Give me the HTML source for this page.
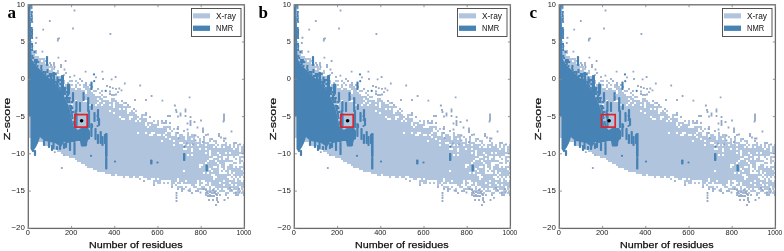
<!DOCTYPE html>
<html><head><meta charset="utf-8"><style>
html,body{margin:0;padding:0;background:#fff;}
svg{display:block;filter:blur(0.4px);}
.t{font-family:"Liberation Sans",sans-serif;font-size:7.4px;fill:#222;}
.al{font-family:"Liberation Sans",sans-serif;font-size:9.6px;fill:#111;stroke:#111;stroke-width:0.25px;}
.lg{font-family:"Liberation Sans",sans-serif;font-size:8.3px;fill:#111;}
.pl{font-family:"Liberation Serif",serif;font-weight:bold;font-size:17px;fill:#000;}
</style></head><body>
<svg width="784" height="251" viewBox="0 0 784 251">
<rect width="784" height="251" fill="#fff"/>
<g transform="translate(0,0)"><path fill="#b0c4de" d="M29,50h2v88h-2zM31,48h2v92h-2zM33,50h2v90h-2zM35,52h2v2h-2zM35,56h2v84h-2zM37,56h2v86h-2zM39,58h2v84h-2zM41,58h2v2h-2zM41,62h2v80h-2zM43,58h2v86h-2zM45,60h2v2h-2zM45,64h2v82h-2zM47,64h2v82h-2zM49,66h2v2h-2zM49,70h2v76h-2zM51,66h2v82h-2zM53,68h2v2h-2zM53,72h2v78h-2zM55,72h2v78h-2zM57,70h2v4h-2zM57,76h2v76h-2zM59,76h2v76h-2zM61,80h2v74h-2zM63,74h2v2h-2zM63,80h2v4h-2zM63,86h2v68h-2zM65,84h2v72h-2zM67,82h2v8h-2zM67,92h2v64h-2zM69,80h2v2h-2zM69,84h2v74h-2zM71,80h2v2h-2zM71,84h2v2h-2zM71,88h2v16h-2zM71,106h2v52h-2zM73,88h2v70h-2zM75,80h2v2h-2zM75,84h2v4h-2zM75,90h2v10h-2zM75,102h2v58h-2zM77,82h2v2h-2zM77,88h2v74h-2zM79,84h2v2h-2zM79,88h2v74h-2zM81,90h2v74h-2zM83,84h2v4h-2zM83,90h2v4h-2zM83,96h2v4h-2zM83,102h2v62h-2zM85,86h2v4h-2zM85,94h2v6h-2zM85,102h2v64h-2zM87,86h2v14h-2zM87,102h2v66h-2zM89,88h2v16h-2zM89,106h2v62h-2zM91,92h2v76h-2zM93,90h2v2h-2zM93,94h2v76h-2zM95,90h2v2h-2zM95,96h2v8h-2zM95,106h2v64h-2zM97,96h2v2h-2zM97,100h2v2h-2zM97,104h2v68h-2zM99,92h2v2h-2zM99,96h2v4h-2zM99,102h2v70h-2zM101,94h2v2h-2zM101,98h2v6h-2zM101,106h2v66h-2zM103,96h2v2h-2zM103,100h2v2h-2zM103,104h2v68h-2zM105,96h2v2h-2zM105,100h2v74h-2zM107,100h2v74h-2zM109,102h2v2h-2zM109,106h2v4h-2zM109,112h2v62h-2zM111,98h2v78h-2zM113,98h2v4h-2zM113,108h2v4h-2zM113,114h2v62h-2zM115,100h2v74h-2zM117,102h2v74h-2zM119,104h2v4h-2zM119,110h2v6h-2zM119,118h2v58h-2zM121,104h2v14h-2zM121,120h2v56h-2zM123,102h2v2h-2zM123,106h2v2h-2zM123,110h2v8h-2zM123,120h2v58h-2zM125,106h2v70h-2zM127,106h2v2h-2zM127,114h2v62h-2zM129,106h2v2h-2zM129,112h2v4h-2zM129,120h2v58h-2zM131,110h2v6h-2zM131,118h2v60h-2zM133,112h2v64h-2zM135,110h2v2h-2zM135,114h2v6h-2zM135,122h2v56h-2zM137,116h2v2h-2zM137,120h2v12h-2zM137,134h2v44h-2zM139,118h2v2h-2zM139,122h2v54h-2zM139,178h2v2h-2zM141,114h2v62h-2zM143,114h2v2h-2zM143,118h2v60h-2zM145,118h2v4h-2zM145,126h2v6h-2zM145,134h2v44h-2zM147,122h2v4h-2zM147,128h2v52h-2zM149,122h2v2h-2zM149,126h2v8h-2zM149,136h2v44h-2zM151,122h2v10h-2zM151,136h2v42h-2zM153,120h2v2h-2zM153,124h2v8h-2zM153,134h2v44h-2zM153,180h2v4h-2zM155,124h2v58h-2zM157,120h2v6h-2zM157,128h2v6h-2zM157,136h2v42h-2zM157,180h2v4h-2zM159,128h2v6h-2zM159,136h2v48h-2zM161,122h2v2h-2zM161,128h2v12h-2zM161,142h2v38h-2zM163,126h2v8h-2zM163,136h2v44h-2zM163,182h2v2h-2zM165,126h2v6h-2zM165,134h2v2h-2zM165,138h2v42h-2zM167,126h2v2h-2zM167,132h2v48h-2zM167,182h2v2h-2zM169,126h2v4h-2zM169,132h2v6h-2zM169,140h2v40h-2zM171,130h2v2h-2zM171,136h2v50h-2zM173,128h2v2h-2zM173,136h2v4h-2zM173,142h2v2h-2zM173,146h2v38h-2zM175,132h2v50h-2zM175,184h2v2h-2zM177,132h2v2h-2zM177,138h2v40h-2zM177,182h2v2h-2zM177,186h2v2h-2zM179,134h2v8h-2zM179,144h2v40h-2zM179,186h2v2h-2zM181,134h2v8h-2zM181,144h2v38h-2zM181,186h2v2h-2zM183,136h2v8h-2zM183,146h2v2h-2zM183,150h2v20h-2zM183,172h2v12h-2zM183,188h2v2h-2zM185,140h2v8h-2zM185,150h2v30h-2zM185,182h2v2h-2zM185,186h2v2h-2zM187,132h2v12h-2zM187,146h2v8h-2zM187,156h2v28h-2zM189,136h2v48h-2zM189,188h2v2h-2zM191,134h2v4h-2zM191,140h2v4h-2zM191,146h2v2h-2zM191,152h2v2h-2zM191,156h2v30h-2zM193,134h2v54h-2zM195,142h2v42h-2zM195,186h2v2h-2zM197,136h2v2h-2zM197,142h2v2h-2zM197,146h2v34h-2zM197,188h2v2h-2zM199,138h2v10h-2zM199,150h2v14h-2zM199,168h2v18h-2zM199,188h2v2h-2zM201,144h2v20h-2zM201,166h2v14h-2zM201,182h2v2h-2zM201,186h2v4h-2zM203,138h2v34h-2zM203,174h2v6h-2zM203,186h2v4h-2zM205,142h2v2h-2zM205,146h2v2h-2zM205,150h2v2h-2zM205,154h2v8h-2zM205,164h2v18h-2zM205,184h2v2h-2zM205,188h2v2h-2zM207,142h2v18h-2zM207,162h2v10h-2zM207,174h2v12h-2zM207,190h2v2h-2zM209,138h2v4h-2zM209,144h2v6h-2zM209,156h2v2h-2zM209,160h2v8h-2zM209,170h2v12h-2zM209,186h2v6h-2zM211,144h2v14h-2zM211,160h2v10h-2zM211,172h2v2h-2zM211,176h2v10h-2zM211,190h2v2h-2zM213,140h2v2h-2zM213,144h2v2h-2zM213,148h2v8h-2zM213,158h2v8h-2zM213,168h2v6h-2zM213,180h2v6h-2zM213,188h2v4h-2zM215,140h2v4h-2zM215,146h2v10h-2zM215,158h2v2h-2zM215,162h2v4h-2zM215,168h2v8h-2zM215,178h2v10h-2zM215,190h2v2h-2zM217,144h2v2h-2zM217,148h2v4h-2zM217,154h2v8h-2zM217,164h2v26h-2zM217,192h2v2h-2zM219,148h2v6h-2zM219,156h2v2h-2zM219,160h2v4h-2zM219,174h2v8h-2zM219,184h2v4h-2zM219,190h2v2h-2zM221,144h2v24h-2zM221,170h2v2h-2zM221,174h2v18h-2zM223,144h2v2h-2zM223,148h2v8h-2zM223,160h2v10h-2zM223,174h2v6h-2zM223,182h2v2h-2zM223,186h2v2h-2zM223,190h2v2h-2zM225,142h2v10h-2zM225,154h2v2h-2zM225,158h2v4h-2zM225,170h2v2h-2zM225,174h2v14h-2zM225,192h2v2h-2zM227,146h2v16h-2zM227,166h2v10h-2zM227,178h2v12h-2zM227,192h2v2h-2zM229,144h2v8h-2zM229,154h2v2h-2zM229,160h2v2h-2zM229,164h2v6h-2zM229,174h2v2h-2zM229,180h2v2h-2zM229,184h2v8h-2zM231,148h2v8h-2zM231,160h2v2h-2zM231,164h2v10h-2zM231,176h2v2h-2zM231,180h2v4h-2zM231,186h2v2h-2zM231,190h2v2h-2zM233,144h2v4h-2zM233,150h2v8h-2zM233,162h2v2h-2zM233,168h2v4h-2zM233,174h2v2h-2zM233,178h2v12h-2zM233,192h2v2h-2zM235,148h2v8h-2zM235,158h2v2h-2zM235,162h2v2h-2zM235,166h2v12h-2zM235,182h2v2h-2zM235,186h2v4h-2zM235,192h2v2h-2zM237,144h2v12h-2zM237,168h2v8h-2zM237,178h2v16h-2zM239,152h2v2h-2zM239,156h2v8h-2zM239,166h2v12h-2zM239,180h2v6h-2zM239,190h2v2h-2zM241,146h2v8h-2zM241,156h2v2h-2zM241,160h2v2h-2zM241,166h2v2h-2zM241,170h2v6h-2zM241,182h2v8h-2zM241,192h2v2h-2zM243,144h2v10h-2zM243,156h2v2h-2zM243,162h2v8h-2zM243,172h2v2h-2zM243,176h2v2h-2zM243,180h2v8h-2zM243,192h2v2h-2z"/>
<path fill="#a2b7d6" d="M35,50h2v2h-2zM49,62h2v2h-2zM53,62h2v2h-2zM53,64h2v2h-2zM63,154h2v2h-2zM65,72h2v2h-2zM69,76h2v2h-2zM79,78h2v2h-2zM81,80h2v2h-2zM85,82h2v2h-2zM85,84h2v2h-2zM89,84h2v2h-2zM91,86h2v2h-2zM97,88h2v2h-2zM101,90h2v2h-2zM111,94h2v2h-2zM113,94h2v2h-2zM121,100h2v2h-2zM125,102h2v2h-2zM127,104h2v2h-2zM133,108h2v2h-2zM143,180h2v2h-2zM145,112h2v2h-2zM145,114h2v2h-2zM149,116h2v2h-2zM153,184h2v2h-2zM161,120h2v2h-2zM163,122h2v2h-2zM165,120h2v2h-2zM165,122h2v2h-2zM169,122h2v2h-2zM171,186h2v2h-2zM177,126h2v2h-2zM177,128h2v2h-2zM177,188h2v2h-2zM181,188h2v2h-2zM181,190h2v2h-2zM183,130h2v2h-2zM189,190h2v2h-2zM191,192h2v2h-2zM195,190h2v2h-2zM197,190h2v2h-2zM203,136h2v2h-2zM205,134h2v2h-2zM205,192h2v2h-2zM205,194h2v2h-2zM209,194h2v2h-2zM211,138h2v2h-2zM211,192h2v2h-2zM213,192h2v2h-2zM219,194h2v2h-2zM223,140h2v2h-2zM225,194h2v2h-2zM233,142h2v2h-2zM235,142h2v2h-2zM235,194h2v2h-2zM237,194h2v2h-2zM243,194h2v2h-2z"/>
<polygon fill="#4682b4" points="28.5,5.0 30.5,5.0 30.5,7.0 30.6,9.0 30.6,11.0 30.7,13.0 30.7,15.0 30.7,17.0 30.8,19.0 30.8,21.0 30.9,23.0 30.9,25.0 30.9,27.0 31.0,29.0 31.0,31.0 31.0,33.0 31.0,35.0 31.0,37.0 31.0,39.0 31.0,41.0 31.0,43.0 31.0,45.0 31.0,47.0 31.1,49.0 31.2,51.0 31.4,53.0 31.5,55.0 31.7,57.0 31.9,59.0 32.7,61.0 34.1,63.0 35.5,65.0 37.5,67.0 39.5,69.0 41.5,71.0 43.5,73.0 45.5,75.0 47.9,77.0 50.3,79.0 52.5,81.0 54.5,83.0 56.5,85.0 58.0,87.0 59.4,89.0 60.8,91.0 62.1,93.0 63.3,95.0 64.4,97.0 65.5,99.0 66.4,101.0 67.3,103.0 68.2,105.0 68.8,107.0 69.5,109.0 70.1,111.0 70.5,113.0 71.0,115.0 71.4,117.0 71.9,119.0 72.3,121.0 72.8,123.0 73.3,125.0 73.8,127.0 78.0,130.0 81.0,128.0 88.0,128.0 90.0,131.0 90.0,139.0 88.0,140.0 86.0,146.5 81.0,146.5 80.0,141.0 77.0,141.0 74.5,142.0 72.0,142.0 68.0,143.0 64.0,142.0 61.0,147.0 58.0,145.0 55.0,143.0 50.0,142.0 45.0,141.0 42.0,139.0 40.0,137.0 38.0,143.0 36.0,147.0 34.0,150.0 32.0,151.0 30.5,149.0 30.5,116.0 28.5,116.0"/>
<path fill="#4682b4" d="M30.2,5.0h2v2h-2zM30.4,7.0h2v2h-2zM30.8,11.0h2v2h-2zM30.5,13.0h2v2h-2zM30.7,15.0h2v2h-2zM30.8,17.0h2v2h-2zM30.7,19.0h2v2h-2zM31.1,21.0h2v2h-2zM30.7,27.0h2v2h-2zM31.1,29.0h2v2h-2zM31.0,31.0h2v2h-2zM31.1,33.0h2v2h-2zM30.9,35.0h2v2h-2zM31.1,37.0h2v2h-2zM31.0,43.0h2v2h-2zM31.2,45.0h2v2h-2zM31.1,47.0h2v2h-2zM31.1,49.0h2v2h-2zM33.6,51.0h2v2h-2zM31.3,55.0h2v2h-2zM32.1,57.0h2v2h-2zM34.0,59.0h2v2h-2zM35.9,59.0h2v2h-2zM33.6,61.0h2v2h-2zM35.5,61.0h2v2h-2zM37.3,61.0h2v2h-2zM34.9,63.0h2v2h-2zM36.5,65.0h2v2h-2zM40.4,65.0h2v2h-2zM40.2,67.0h2v2h-2zM40.6,69.0h2v2h-2zM46.5,69.0h2v2h-2zM42.3,71.0h2v2h-2zM44.3,71.0h2v2h-2zM46.5,71.0h2v2h-2zM44.4,73.0h2v2h-2zM48.7,73.0h2v2h-2zM50.8,73.0h2v2h-2zM54.6,73.0h2v2h-2zM46.6,75.0h2v2h-2zM48.6,75.0h2v2h-2zM50.6,75.0h2v2h-2zM52.9,75.0h2v2h-2zM51.2,79.0h2v2h-2zM53.4,79.0h2v2h-2zM57.7,79.0h2v2h-2zM59.5,79.0h2v2h-2zM53.6,81.0h2v2h-2zM55.6,81.0h2v2h-2zM57.6,81.0h2v2h-2zM55.4,83.0h2v2h-2zM59.3,83.0h2v2h-2zM57.1,85.0h2v2h-2zM58.4,87.0h2v2h-2zM60.6,87.0h2v2h-2zM62.6,87.0h2v2h-2zM64.4,87.0h2v2h-2zM60.0,89.0h2v2h-2zM62.3,89.0h2v2h-2zM64.0,89.0h2v2h-2zM61.4,91.0h2v2h-2zM63.4,91.0h2v2h-2zM65.6,91.0h2v2h-2zM62.7,93.0h2v2h-2zM64.5,93.0h2v2h-2zM67.0,93.0h2v2h-2zM66.0,95.0h2v2h-2zM65.0,97.0h2v2h-2zM67.0,97.0h2v2h-2zM68.8,97.0h2v2h-2zM66.0,99.0h2v2h-2zM68.2,99.0h2v2h-2zM66.8,101.0h2v2h-2zM68.6,101.0h2v2h-2zM71.1,101.0h2v2h-2zM68.6,105.0h2v2h-2zM70.5,105.0h2v2h-2zM69.3,107.0h2v2h-2zM71.3,107.0h2v2h-2zM69.8,109.0h2v2h-2zM70.4,111.0h2v2h-2zM72.3,111.0h2v2h-2zM70.9,113.0h2v2h-2zM71.1,115.0h2v2h-2zM71.5,117.0h2v2h-2zM72.7,121.0h2v2h-2zM73.1,123.0h2v2h-2zM73.7,125.0h2v2h-2zM74.2,127.0h2v2h-2z"/>
<path fill="#8cb0d6" d="M31.4,6.0h1.3v1.3h-1.3zM30.5,8.2h1.3v1.3h-1.3zM30.0,12.6h1.3v1.3h-1.3zM29.8,14.8h1.3v1.3h-1.3zM30.8,17.0h1.3v1.3h-1.3zM31.4,21.4h1.3v1.3h-1.3zM31.0,41.2h1.3v1.3h-1.3zM31.0,47.8h1.3v1.3h-1.3z"/>
<rect x="45.9" y="56.0" width="2.2" height="10.0" rx="0.8" fill="#4682b4"/>
<rect x="60.8" y="78.0" width="2.4" height="18.0" rx="0.8" fill="#4682b4"/>
<rect x="66.9" y="84.0" width="2.2" height="12.0" rx="0.8" fill="#4682b4"/>
<rect x="71.9" y="92.0" width="2.2" height="10.0" rx="0.8" fill="#4682b4"/>
<rect x="75.3" y="101.0" width="2.2" height="11.0" rx="0.8" fill="#4682b4"/>
<rect x="78.9" y="102.0" width="2.2" height="10.0" rx="0.8" fill="#4682b4"/>
<rect x="82.5" y="92.0" width="2.2" height="9.0" rx="0.8" fill="#4682b4"/>
<rect x="87.1" y="97.0" width="2.2" height="15.0" rx="0.8" fill="#4682b4"/>
<rect x="90.4" y="81.6" width="2.2" height="8.4" rx="0.8" fill="#4682b4"/>
<rect x="90.7" y="104.0" width="2.2" height="6.0" rx="0.8" fill="#4682b4"/>
<rect x="96.9" y="109.0" width="2.2" height="10.0" rx="0.8" fill="#4682b4"/>
<rect x="90.3" y="123.0" width="2.2" height="14.0" rx="0.8" fill="#4682b4"/>
<rect x="105.0" y="133.0" width="2.6" height="24.0" rx="0.8" fill="#4682b4"/>
<rect x="105.1" y="157.0" width="2.3" height="12.5" rx="0.8" fill="#4682b4"/>
<rect x="96.8" y="134.0" width="2.2" height="10.0" rx="0.8" fill="#4682b4"/>
<rect x="99.6" y="131.0" width="2.2" height="13.0" rx="0.8" fill="#4682b4"/>
<rect x="103.9" y="134.0" width="2.2" height="10.0" rx="0.8" fill="#4682b4"/>
<rect x="75.4" y="113.0" width="2.2" height="15.0" rx="0.8" fill="#4682b4"/>
<rect x="87.9" y="110.0" width="2.2" height="18.0" rx="0.8" fill="#4682b4"/>
<rect x="74.6" y="110.0" width="2.2" height="8.0" rx="0.8" fill="#4682b4"/>
<rect x="90.9" y="124.0" width="2.2" height="4.0" rx="0.8" fill="#4682b4"/>
<rect x="49.9" y="74.4" width="2.2" height="11.6" rx="0.8" fill="#4682b4"/>
<rect x="52.5" y="71.8" width="2.5" height="14.2" rx="0.8" fill="#4682b4"/>
<rect x="56.4" y="76.6" width="2.2" height="9.4" rx="0.8" fill="#4682b4"/>
<rect x="61.0" y="75.0" width="3.0" height="24.0" rx="0.8" fill="#4682b4"/>
<rect x="67.5" y="83.6" width="2.5" height="10.9" rx="0.8" fill="#4682b4"/>
<rect x="73.4" y="142.0" width="2.2" height="13.0" rx="0.8" fill="#4682b4"/>
<rect x="33.9" y="150.0" width="2.2" height="6.0" rx="0.8" fill="#4682b4"/>
<rect x="150.1" y="159.5" width="2.4" height="5.0" rx="0.8" fill="#4682b4"/>
<rect x="183.0" y="153.0" width="2.4" height="8.0" rx="0.8" fill="#4682b4"/>
<rect x="205.5" y="164.5" width="2.4" height="7.0" rx="0.8" fill="#4682b4"/>
<rect x="50.9" y="145.0" width="2.2" height="6.0" rx="0.8" fill="#4682b4"/>
<rect x="55.9" y="146.0" width="2.2" height="4.0" rx="0.8" fill="#4682b4"/>
<rect x="62.9" y="143.0" width="2.2" height="6.0" rx="0.8" fill="#4682b4"/>
<rect x="31.9" y="145.0" width="2.2" height="7.0" rx="0.8" fill="#4682b4"/>
<rect x="42.9" y="140.0" width="2.2" height="6.0" rx="0.8" fill="#4682b4"/>
<rect x="47.9" y="141.0" width="2.2" height="7.0" rx="0.8" fill="#4682b4"/>
<rect x="52.4" y="142.0" width="2.2" height="7.0" rx="0.8" fill="#4682b4"/>
<rect x="58.9" y="145.0" width="2.2" height="5.0" rx="0.8" fill="#4682b4"/>
<rect x="64.9" y="142.0" width="2.2" height="6.0" rx="0.8" fill="#4682b4"/>
<rect x="68.9" y="142.0" width="2.2" height="9.0" rx="0.8" fill="#4682b4"/>
<rect x="93.4" y="112.0" width="2.2" height="10.0" rx="0.8" fill="#4682b4"/>
<rect x="94.4" y="128.0" width="2.2" height="12.0" rx="0.8" fill="#4682b4"/>
<rect x="101.4" y="136.0" width="2.2" height="10.0" rx="0.8" fill="#4682b4"/>
<rect x="97.9" y="118.0" width="2.2" height="8.0" rx="0.8" fill="#4682b4"/>
<rect x="84.9" y="128.0" width="2.2" height="18.0" rx="0.8" fill="#4682b4"/>
<circle cx="94.2" cy="81.2" r="1.1" fill="#4682b4"/>
<circle cx="105.7" cy="90.9" r="1.1" fill="#4682b4"/>
<circle cx="91.0" cy="155.8" r="1.1" fill="#4682b4"/>
<circle cx="115.0" cy="161.5" r="1.1" fill="#4682b4"/>
<circle cx="157.5" cy="162.5" r="1.1" fill="#4682b4"/>
<circle cx="184.4" cy="146.6" r="1.1" fill="#4682b4"/>
<circle cx="94.0" cy="74.4" r="1.1" fill="#4682b4"/>
<circle cx="97.5" cy="116.0" r="1.1" fill="#4682b4"/>
<circle cx="97.5" cy="120.0" r="1.1" fill="#4682b4"/>
<circle cx="97.5" cy="126.0" r="1.1" fill="#4682b4"/>
<path fill="#95a7c6" d="M73.6,9.6h1.8v1.8h-1.8zM48.9,20.1h1.8v1.8h-1.8zM72.1,27.6h1.8v1.8h-1.8zM42.3,28.8h1.8v1.8h-1.8zM109.5,33.1h1.8v1.8h-1.8zM57.1,38.1h1.8v1.8h-1.8zM35.5,36.7h1.8v1.8h-1.8zM41.5,50.7h1.8v1.8h-1.8zM57.5,56.7h1.8v1.8h-1.8zM64.7,60.1h1.8v1.8h-1.8zM84.7,70.7h1.8v1.8h-1.8zM101.5,70.7h1.8v1.8h-1.8zM114.7,76.1h1.8v1.8h-1.8zM73.5,74.7h1.8v1.8h-1.8zM35.6,36.9h1.8v1.8h-1.8zM58.1,37.4h1.8v1.8h-1.8zM56.9,39.6h1.8v1.8h-1.8zM34.9,42.1h1.8v1.8h-1.8zM53.6,66.1h1.8v1.8h-1.8zM60.1,64.1h1.8v1.8h-1.8zM60.1,66.1h1.8v1.8h-1.8zM63.6,68.6h1.8v1.8h-1.8zM50.1,64.1h1.8v1.8h-1.8zM95.1,76.5h1.8v1.8h-1.8zM102.1,78.1h1.8v1.8h-1.8zM110.7,78.5h1.8v1.8h-1.8zM123.9,82.6h1.8v1.8h-1.8zM139.3,84.6h1.8v1.8h-1.8zM106.1,85.1h1.8v1.8h-1.8zM109.1,86.1h1.8v1.8h-1.8zM111.9,87.3h1.8v1.8h-1.8zM115.1,87.9h1.8v1.8h-1.8zM118.4,87.6h1.8v1.8h-1.8zM120.6,89.4h1.8v1.8h-1.8zM117.1,91.3h1.8v1.8h-1.8zM109.1,90.6h1.8v1.8h-1.8zM115.1,93.6h1.8v1.8h-1.8zM109.1,93.1h1.8v1.8h-1.8zM188.7,96.5h1.8v1.8h-1.8zM150.7,95.1h1.8v1.8h-1.8zM161.5,99.7h1.8v1.8h-1.8zM134.1,99.1h1.8v1.8h-1.8zM145.1,99.1h1.8v1.8h-1.8zM174.1,104.7h1.8v1.8h-1.8zM173.9,104.6h1.8v1.8h-1.8zM175.1,109.1h1.8v1.8h-1.8zM175.6,111.1h1.8v1.8h-1.8zM184.6,108.6h1.8v1.8h-1.8zM184.6,110.6h1.8v1.8h-1.8zM179.6,112.6h1.8v1.8h-1.8zM179.6,114.6h1.8v1.8h-1.8zM177.1,115.6h1.8v1.8h-1.8zM184.6,115.1h1.8v1.8h-1.8zM189.6,116.1h1.8v1.8h-1.8zM167.1,115.1h1.8v1.8h-1.8zM169.1,115.1h1.8v1.8h-1.8zM223.1,113.6h1.8v1.8h-1.8zM223.1,115.6h1.8v1.8h-1.8zM223.1,117.6h1.8v1.8h-1.8zM223.1,119.1h1.8v1.8h-1.8zM186.6,122.6h1.8v1.8h-1.8zM189.6,120.1h1.8v1.8h-1.8zM189.6,122.1h1.8v1.8h-1.8zM189.6,124.1h1.8v1.8h-1.8zM193.6,121.1h1.8v1.8h-1.8zM200.1,119.6h1.8v1.8h-1.8zM222.6,120.6h1.8v1.8h-1.8zM176.6,127.9h1.8v1.8h-1.8zM186.6,128.6h1.8v1.8h-1.8zM196.6,126.6h1.8v1.8h-1.8zM202.1,127.6h1.8v1.8h-1.8zM202.1,129.6h1.8v1.8h-1.8zM202.1,131.1h1.8v1.8h-1.8zM230.6,130.6h1.8v1.8h-1.8zM176.6,131.9h1.8v1.8h-1.8zM194.6,134.6h1.8v1.8h-1.8zM207.1,133.6h1.8v1.8h-1.8zM218.1,133.1h1.8v1.8h-1.8zM218.1,135.1h1.8v1.8h-1.8zM220.1,136.6h1.8v1.8h-1.8zM223.1,137.6h1.8v1.8h-1.8zM224.6,137.6h1.8v1.8h-1.8zM177.6,137.1h1.8v1.8h-1.8zM194.6,139.6h1.8v1.8h-1.8zM202.1,141.1h1.8v1.8h-1.8zM186.1,142.6h1.8v1.8h-1.8zM192.1,143.6h1.8v1.8h-1.8zM239.1,143.6h1.8v1.8h-1.8zM175.6,192.1h1.8v1.8h-1.8zM175.6,194.6h1.8v1.8h-1.8zM175.6,197.1h1.8v1.8h-1.8zM175.6,200.1h1.8v1.8h-1.8zM187.6,189.6h1.8v1.8h-1.8zM199.6,191.6h1.8v1.8h-1.8zM202.6,188.1h1.8v1.8h-1.8zM205.1,189.1h1.8v1.8h-1.8zM206.1,191.1h1.8v1.8h-1.8zM207.1,192.6h1.8v1.8h-1.8zM209.1,191.1h1.8v1.8h-1.8zM212.1,189.1h1.8v1.8h-1.8zM214.1,191.1h1.8v1.8h-1.8zM215.1,193.1h1.8v1.8h-1.8zM207.1,195.1h1.8v1.8h-1.8zM209.1,195.1h1.8v1.8h-1.8zM211.1,195.1h1.8v1.8h-1.8zM213.1,195.1h1.8v1.8h-1.8zM216.1,194.1h1.8v1.8h-1.8zM208.1,199.1h1.8v1.8h-1.8zM212.1,199.1h1.8v1.8h-1.8zM216.1,197.1h1.8v1.8h-1.8zM216.1,199.1h1.8v1.8h-1.8zM217.1,201.1h1.8v1.8h-1.8zM215.1,204.1h1.8v1.8h-1.8zM223.6,199.1h1.8v1.8h-1.8zM227.1,196.9h1.8v1.8h-1.8zM230.6,189.1h1.8v1.8h-1.8zM235.1,191.6h1.8v1.8h-1.8zM238.6,191.6h1.8v1.8h-1.8zM229.1,187.1h1.8v1.8h-1.8zM238.1,188.1h1.8v1.8h-1.8zM53.9,151.3h1.8v1.8h-1.8zM60.9,167.1h1.8v1.8h-1.8z"/><rect x="74.9" y="114.6" width="12.3" height="12.5" fill="none" stroke="#d8262e" stroke-width="1.7"/><circle cx="81.6" cy="120.8" r="1.8" fill="#000"/><rect x="28.3" y="4.8" width="216.1" height="223.6" fill="none" stroke="#6a6a6a" stroke-width="1.3"/><path d="M28.4,228.4V225.9M28.4,4.7V7.2M71.6,228.4V225.9M71.6,4.7V7.2M114.8,228.4V225.9M114.8,4.7V7.2M158.0,228.4V225.9M158.0,4.7V7.2M201.2,228.4V225.9M201.2,4.7V7.2M244.4,228.4V225.9M244.4,4.7V7.2M28.4,4.7H30.9M244.4,4.7H241.9M28.4,42.0H30.9M244.4,42.0H241.9M28.4,79.3H30.9M244.4,79.3H241.9M28.4,116.6H30.9M244.4,116.6H241.9M28.4,153.8H30.9M244.4,153.8H241.9M28.4,191.1H30.9M244.4,191.1H241.9M28.4,228.4H30.9M244.4,228.4H241.9" stroke="#888" stroke-width="0.9" fill="none"/><text x="27.9" y="235" text-anchor="middle" class="t">0</text>
<text x="71.1" y="235" text-anchor="middle" class="t">200</text>
<text x="114.3" y="235" text-anchor="middle" class="t">400</text>
<text x="157.5" y="235" text-anchor="middle" class="t">600</text>
<text x="200.7" y="235" text-anchor="middle" class="t">800</text>
<text x="243.9" y="235" text-anchor="middle" class="t" textLength="14.8" lengthAdjust="spacingAndGlyphs">1000</text>
<text x="24.9" y="6.7" text-anchor="end" class="t" style="font-size:7.4px">10</text>
<text x="24.9" y="44.0" text-anchor="end" class="t" style="font-size:7.4px">5</text>
<text x="24.9" y="81.3" text-anchor="end" class="t" style="font-size:7.4px">0</text>
<text x="24.9" y="118.6" text-anchor="end" class="t" style="font-size:7.9px">−5</text>
<text x="24.9" y="155.8" text-anchor="end" class="t" style="font-size:7.9px">−10</text>
<text x="24.9" y="193.1" text-anchor="end" class="t" style="font-size:7.9px">−15</text>
<text x="24.9" y="230.4" text-anchor="end" class="t" style="font-size:7.9px">−20</text>
<text x="89" y="247.9" textLength="93.5" lengthAdjust="spacingAndGlyphs" class="al">Number of residues</text>
<text transform="translate(10.4,140.2) rotate(-90)" textLength="42.5" lengthAdjust="spacingAndGlyphs" class="al">Z-score</text>
<rect x="191.5" y="8.5" width="49.5" height="28" fill="#fff" stroke="#444" stroke-width="0.9"/>
<rect x="193" y="13.3" width="17" height="5.1" fill="#b0c4de"/>
<rect x="193" y="25.6" width="17" height="5.3" fill="#4682b4"/>
<text x="216" y="18.8" textLength="20" lengthAdjust="spacingAndGlyphs" class="lg">X-ray</text>
<text x="216" y="31.3" textLength="17.2" lengthAdjust="spacingAndGlyphs" class="lg">NMR</text></g>
<g transform="translate(266,0)"><path fill="#b0c4de" d="M29,50h2v88h-2zM31,48h2v92h-2zM33,50h2v90h-2zM35,52h2v2h-2zM35,56h2v84h-2zM37,56h2v86h-2zM39,58h2v84h-2zM41,58h2v2h-2zM41,62h2v80h-2zM43,58h2v86h-2zM45,60h2v2h-2zM45,64h2v82h-2zM47,64h2v82h-2zM49,66h2v2h-2zM49,70h2v76h-2zM51,66h2v82h-2zM53,68h2v2h-2zM53,72h2v78h-2zM55,72h2v78h-2zM57,70h2v4h-2zM57,76h2v76h-2zM59,76h2v76h-2zM61,80h2v74h-2zM63,74h2v2h-2zM63,80h2v4h-2zM63,86h2v68h-2zM65,84h2v72h-2zM67,82h2v8h-2zM67,92h2v64h-2zM69,80h2v2h-2zM69,84h2v74h-2zM71,80h2v2h-2zM71,84h2v2h-2zM71,88h2v16h-2zM71,106h2v52h-2zM73,88h2v70h-2zM75,80h2v2h-2zM75,84h2v4h-2zM75,90h2v10h-2zM75,102h2v58h-2zM77,82h2v2h-2zM77,88h2v74h-2zM79,84h2v2h-2zM79,88h2v74h-2zM81,90h2v74h-2zM83,84h2v4h-2zM83,90h2v4h-2zM83,96h2v4h-2zM83,102h2v62h-2zM85,86h2v4h-2zM85,94h2v6h-2zM85,102h2v64h-2zM87,86h2v14h-2zM87,102h2v66h-2zM89,88h2v16h-2zM89,106h2v62h-2zM91,92h2v76h-2zM93,90h2v2h-2zM93,94h2v76h-2zM95,90h2v2h-2zM95,96h2v8h-2zM95,106h2v64h-2zM97,96h2v2h-2zM97,100h2v2h-2zM97,104h2v68h-2zM99,92h2v2h-2zM99,96h2v4h-2zM99,102h2v70h-2zM101,94h2v2h-2zM101,98h2v6h-2zM101,106h2v66h-2zM103,96h2v2h-2zM103,100h2v2h-2zM103,104h2v68h-2zM105,96h2v2h-2zM105,100h2v74h-2zM107,100h2v74h-2zM109,102h2v2h-2zM109,106h2v4h-2zM109,112h2v62h-2zM111,98h2v78h-2zM113,98h2v4h-2zM113,108h2v4h-2zM113,114h2v62h-2zM115,100h2v74h-2zM117,102h2v74h-2zM119,104h2v4h-2zM119,110h2v6h-2zM119,118h2v58h-2zM121,104h2v14h-2zM121,120h2v56h-2zM123,102h2v2h-2zM123,106h2v2h-2zM123,110h2v8h-2zM123,120h2v58h-2zM125,106h2v70h-2zM127,106h2v2h-2zM127,114h2v62h-2zM129,106h2v2h-2zM129,112h2v4h-2zM129,120h2v58h-2zM131,110h2v6h-2zM131,118h2v60h-2zM133,112h2v64h-2zM135,110h2v2h-2zM135,114h2v6h-2zM135,122h2v56h-2zM137,116h2v2h-2zM137,120h2v12h-2zM137,134h2v44h-2zM139,118h2v2h-2zM139,122h2v54h-2zM139,178h2v2h-2zM141,114h2v62h-2zM143,114h2v2h-2zM143,118h2v60h-2zM145,118h2v4h-2zM145,126h2v6h-2zM145,134h2v44h-2zM147,122h2v4h-2zM147,128h2v52h-2zM149,122h2v2h-2zM149,126h2v8h-2zM149,136h2v44h-2zM151,122h2v10h-2zM151,136h2v42h-2zM153,120h2v2h-2zM153,124h2v8h-2zM153,134h2v44h-2zM153,180h2v4h-2zM155,124h2v58h-2zM157,120h2v6h-2zM157,128h2v6h-2zM157,136h2v42h-2zM157,180h2v4h-2zM159,128h2v6h-2zM159,136h2v48h-2zM161,122h2v2h-2zM161,128h2v12h-2zM161,142h2v38h-2zM163,126h2v8h-2zM163,136h2v44h-2zM163,182h2v2h-2zM165,126h2v6h-2zM165,134h2v2h-2zM165,138h2v42h-2zM167,126h2v2h-2zM167,132h2v48h-2zM167,182h2v2h-2zM169,126h2v4h-2zM169,132h2v6h-2zM169,140h2v40h-2zM171,130h2v2h-2zM171,136h2v50h-2zM173,128h2v2h-2zM173,136h2v4h-2zM173,142h2v2h-2zM173,146h2v38h-2zM175,132h2v50h-2zM175,184h2v2h-2zM177,132h2v2h-2zM177,138h2v40h-2zM177,182h2v2h-2zM177,186h2v2h-2zM179,134h2v8h-2zM179,144h2v40h-2zM179,186h2v2h-2zM181,134h2v8h-2zM181,144h2v38h-2zM181,186h2v2h-2zM183,136h2v8h-2zM183,146h2v2h-2zM183,150h2v20h-2zM183,172h2v12h-2zM183,188h2v2h-2zM185,140h2v8h-2zM185,150h2v30h-2zM185,182h2v2h-2zM185,186h2v2h-2zM187,132h2v12h-2zM187,146h2v8h-2zM187,156h2v28h-2zM189,136h2v48h-2zM189,188h2v2h-2zM191,134h2v4h-2zM191,140h2v4h-2zM191,146h2v2h-2zM191,152h2v2h-2zM191,156h2v30h-2zM193,134h2v54h-2zM195,142h2v42h-2zM195,186h2v2h-2zM197,136h2v2h-2zM197,142h2v2h-2zM197,146h2v34h-2zM197,188h2v2h-2zM199,138h2v10h-2zM199,150h2v14h-2zM199,168h2v18h-2zM199,188h2v2h-2zM201,144h2v20h-2zM201,166h2v14h-2zM201,182h2v2h-2zM201,186h2v4h-2zM203,138h2v34h-2zM203,174h2v6h-2zM203,186h2v4h-2zM205,142h2v2h-2zM205,146h2v2h-2zM205,150h2v2h-2zM205,154h2v8h-2zM205,164h2v18h-2zM205,184h2v2h-2zM205,188h2v2h-2zM207,142h2v18h-2zM207,162h2v10h-2zM207,174h2v12h-2zM207,190h2v2h-2zM209,138h2v4h-2zM209,144h2v6h-2zM209,156h2v2h-2zM209,160h2v8h-2zM209,170h2v12h-2zM209,186h2v6h-2zM211,144h2v14h-2zM211,160h2v10h-2zM211,172h2v2h-2zM211,176h2v10h-2zM211,190h2v2h-2zM213,140h2v2h-2zM213,144h2v2h-2zM213,148h2v8h-2zM213,158h2v8h-2zM213,168h2v6h-2zM213,180h2v6h-2zM213,188h2v4h-2zM215,140h2v4h-2zM215,146h2v10h-2zM215,158h2v2h-2zM215,162h2v4h-2zM215,168h2v8h-2zM215,178h2v10h-2zM215,190h2v2h-2zM217,144h2v2h-2zM217,148h2v4h-2zM217,154h2v8h-2zM217,164h2v26h-2zM217,192h2v2h-2zM219,148h2v6h-2zM219,156h2v2h-2zM219,160h2v4h-2zM219,174h2v8h-2zM219,184h2v4h-2zM219,190h2v2h-2zM221,144h2v24h-2zM221,170h2v2h-2zM221,174h2v18h-2zM223,144h2v2h-2zM223,148h2v8h-2zM223,160h2v10h-2zM223,174h2v6h-2zM223,182h2v2h-2zM223,186h2v2h-2zM223,190h2v2h-2zM225,142h2v10h-2zM225,154h2v2h-2zM225,158h2v4h-2zM225,170h2v2h-2zM225,174h2v14h-2zM225,192h2v2h-2zM227,146h2v16h-2zM227,166h2v10h-2zM227,178h2v12h-2zM227,192h2v2h-2zM229,144h2v8h-2zM229,154h2v2h-2zM229,160h2v2h-2zM229,164h2v6h-2zM229,174h2v2h-2zM229,180h2v2h-2zM229,184h2v8h-2zM231,148h2v8h-2zM231,160h2v2h-2zM231,164h2v10h-2zM231,176h2v2h-2zM231,180h2v4h-2zM231,186h2v2h-2zM231,190h2v2h-2zM233,144h2v4h-2zM233,150h2v8h-2zM233,162h2v2h-2zM233,168h2v4h-2zM233,174h2v2h-2zM233,178h2v12h-2zM233,192h2v2h-2zM235,148h2v8h-2zM235,158h2v2h-2zM235,162h2v2h-2zM235,166h2v12h-2zM235,182h2v2h-2zM235,186h2v4h-2zM235,192h2v2h-2zM237,144h2v12h-2zM237,168h2v8h-2zM237,178h2v16h-2zM239,152h2v2h-2zM239,156h2v8h-2zM239,166h2v12h-2zM239,180h2v6h-2zM239,190h2v2h-2zM241,146h2v8h-2zM241,156h2v2h-2zM241,160h2v2h-2zM241,166h2v2h-2zM241,170h2v6h-2zM241,182h2v8h-2zM241,192h2v2h-2zM243,144h2v10h-2zM243,156h2v2h-2zM243,162h2v8h-2zM243,172h2v2h-2zM243,176h2v2h-2zM243,180h2v8h-2zM243,192h2v2h-2z"/>
<path fill="#a2b7d6" d="M35,50h2v2h-2zM49,62h2v2h-2zM53,62h2v2h-2zM53,64h2v2h-2zM63,154h2v2h-2zM65,72h2v2h-2zM69,76h2v2h-2zM79,78h2v2h-2zM81,80h2v2h-2zM85,82h2v2h-2zM85,84h2v2h-2zM89,84h2v2h-2zM91,86h2v2h-2zM97,88h2v2h-2zM101,90h2v2h-2zM111,94h2v2h-2zM113,94h2v2h-2zM121,100h2v2h-2zM125,102h2v2h-2zM127,104h2v2h-2zM133,108h2v2h-2zM143,180h2v2h-2zM145,112h2v2h-2zM145,114h2v2h-2zM149,116h2v2h-2zM153,184h2v2h-2zM161,120h2v2h-2zM163,122h2v2h-2zM165,120h2v2h-2zM165,122h2v2h-2zM169,122h2v2h-2zM171,186h2v2h-2zM177,126h2v2h-2zM177,128h2v2h-2zM177,188h2v2h-2zM181,188h2v2h-2zM181,190h2v2h-2zM183,130h2v2h-2zM189,190h2v2h-2zM191,192h2v2h-2zM195,190h2v2h-2zM197,190h2v2h-2zM203,136h2v2h-2zM205,134h2v2h-2zM205,192h2v2h-2zM205,194h2v2h-2zM209,194h2v2h-2zM211,138h2v2h-2zM211,192h2v2h-2zM213,192h2v2h-2zM219,194h2v2h-2zM223,140h2v2h-2zM225,194h2v2h-2zM233,142h2v2h-2zM235,142h2v2h-2zM235,194h2v2h-2zM237,194h2v2h-2zM243,194h2v2h-2z"/>
<polygon fill="#4682b4" points="28.5,5.0 30.5,5.0 30.5,7.0 30.6,9.0 30.6,11.0 30.7,13.0 30.7,15.0 30.7,17.0 30.8,19.0 30.8,21.0 30.9,23.0 30.9,25.0 30.9,27.0 31.0,29.0 31.0,31.0 31.0,33.0 31.0,35.0 31.0,37.0 31.0,39.0 31.0,41.0 31.0,43.0 31.0,45.0 31.0,47.0 31.1,49.0 31.2,51.0 31.4,53.0 31.5,55.0 31.7,57.0 31.9,59.0 32.7,61.0 34.1,63.0 35.5,65.0 37.5,67.0 39.5,69.0 41.5,71.0 43.5,73.0 45.5,75.0 47.9,77.0 50.3,79.0 52.5,81.0 54.5,83.0 56.5,85.0 58.0,87.0 59.4,89.0 60.8,91.0 62.1,93.0 63.3,95.0 64.4,97.0 65.5,99.0 66.4,101.0 67.3,103.0 68.2,105.0 68.8,107.0 69.5,109.0 70.1,111.0 70.5,113.0 71.0,115.0 71.4,117.0 71.9,119.0 72.3,121.0 72.8,123.0 73.3,125.0 73.8,127.0 78.0,130.0 81.0,128.0 88.0,128.0 90.0,131.0 90.0,139.0 88.0,140.0 86.0,146.5 81.0,146.5 80.0,141.0 77.0,141.0 74.5,142.0 72.0,142.0 68.0,143.0 64.0,142.0 61.0,147.0 58.0,145.0 55.0,143.0 50.0,142.0 45.0,141.0 42.0,139.0 40.0,137.0 38.0,143.0 36.0,147.0 34.0,150.0 32.0,151.0 30.5,149.0 30.5,116.0 28.5,116.0"/>
<path fill="#4682b4" d="M30.2,5.0h2v2h-2zM30.4,7.0h2v2h-2zM30.8,11.0h2v2h-2zM30.5,13.0h2v2h-2zM30.7,15.0h2v2h-2zM30.8,17.0h2v2h-2zM30.7,19.0h2v2h-2zM31.1,21.0h2v2h-2zM30.7,27.0h2v2h-2zM31.1,29.0h2v2h-2zM31.0,31.0h2v2h-2zM31.1,33.0h2v2h-2zM30.9,35.0h2v2h-2zM31.1,37.0h2v2h-2zM31.0,43.0h2v2h-2zM31.2,45.0h2v2h-2zM31.1,47.0h2v2h-2zM31.1,49.0h2v2h-2zM33.6,51.0h2v2h-2zM31.3,55.0h2v2h-2zM32.1,57.0h2v2h-2zM34.0,59.0h2v2h-2zM35.9,59.0h2v2h-2zM33.6,61.0h2v2h-2zM35.5,61.0h2v2h-2zM37.3,61.0h2v2h-2zM34.9,63.0h2v2h-2zM36.5,65.0h2v2h-2zM40.4,65.0h2v2h-2zM40.2,67.0h2v2h-2zM40.6,69.0h2v2h-2zM46.5,69.0h2v2h-2zM42.3,71.0h2v2h-2zM44.3,71.0h2v2h-2zM46.5,71.0h2v2h-2zM44.4,73.0h2v2h-2zM48.7,73.0h2v2h-2zM50.8,73.0h2v2h-2zM54.6,73.0h2v2h-2zM46.6,75.0h2v2h-2zM48.6,75.0h2v2h-2zM50.6,75.0h2v2h-2zM52.9,75.0h2v2h-2zM51.2,79.0h2v2h-2zM53.4,79.0h2v2h-2zM57.7,79.0h2v2h-2zM59.5,79.0h2v2h-2zM53.6,81.0h2v2h-2zM55.6,81.0h2v2h-2zM57.6,81.0h2v2h-2zM55.4,83.0h2v2h-2zM59.3,83.0h2v2h-2zM57.1,85.0h2v2h-2zM58.4,87.0h2v2h-2zM60.6,87.0h2v2h-2zM62.6,87.0h2v2h-2zM64.4,87.0h2v2h-2zM60.0,89.0h2v2h-2zM62.3,89.0h2v2h-2zM64.0,89.0h2v2h-2zM61.4,91.0h2v2h-2zM63.4,91.0h2v2h-2zM65.6,91.0h2v2h-2zM62.7,93.0h2v2h-2zM64.5,93.0h2v2h-2zM67.0,93.0h2v2h-2zM66.0,95.0h2v2h-2zM65.0,97.0h2v2h-2zM67.0,97.0h2v2h-2zM68.8,97.0h2v2h-2zM66.0,99.0h2v2h-2zM68.2,99.0h2v2h-2zM66.8,101.0h2v2h-2zM68.6,101.0h2v2h-2zM71.1,101.0h2v2h-2zM68.6,105.0h2v2h-2zM70.5,105.0h2v2h-2zM69.3,107.0h2v2h-2zM71.3,107.0h2v2h-2zM69.8,109.0h2v2h-2zM70.4,111.0h2v2h-2zM72.3,111.0h2v2h-2zM70.9,113.0h2v2h-2zM71.1,115.0h2v2h-2zM71.5,117.0h2v2h-2zM72.7,121.0h2v2h-2zM73.1,123.0h2v2h-2zM73.7,125.0h2v2h-2zM74.2,127.0h2v2h-2z"/>
<path fill="#8cb0d6" d="M31.4,6.0h1.3v1.3h-1.3zM30.5,8.2h1.3v1.3h-1.3zM30.0,12.6h1.3v1.3h-1.3zM29.8,14.8h1.3v1.3h-1.3zM30.8,17.0h1.3v1.3h-1.3zM31.4,21.4h1.3v1.3h-1.3zM31.0,41.2h1.3v1.3h-1.3zM31.0,47.8h1.3v1.3h-1.3z"/>
<rect x="45.9" y="56.0" width="2.2" height="10.0" rx="0.8" fill="#4682b4"/>
<rect x="60.8" y="78.0" width="2.4" height="18.0" rx="0.8" fill="#4682b4"/>
<rect x="66.9" y="84.0" width="2.2" height="12.0" rx="0.8" fill="#4682b4"/>
<rect x="71.9" y="92.0" width="2.2" height="10.0" rx="0.8" fill="#4682b4"/>
<rect x="75.3" y="101.0" width="2.2" height="11.0" rx="0.8" fill="#4682b4"/>
<rect x="78.9" y="102.0" width="2.2" height="10.0" rx="0.8" fill="#4682b4"/>
<rect x="82.5" y="92.0" width="2.2" height="9.0" rx="0.8" fill="#4682b4"/>
<rect x="87.1" y="97.0" width="2.2" height="15.0" rx="0.8" fill="#4682b4"/>
<rect x="90.4" y="81.6" width="2.2" height="8.4" rx="0.8" fill="#4682b4"/>
<rect x="90.7" y="104.0" width="2.2" height="6.0" rx="0.8" fill="#4682b4"/>
<rect x="96.9" y="109.0" width="2.2" height="10.0" rx="0.8" fill="#4682b4"/>
<rect x="90.3" y="123.0" width="2.2" height="14.0" rx="0.8" fill="#4682b4"/>
<rect x="105.0" y="133.0" width="2.6" height="24.0" rx="0.8" fill="#4682b4"/>
<rect x="105.1" y="157.0" width="2.3" height="12.5" rx="0.8" fill="#4682b4"/>
<rect x="96.8" y="134.0" width="2.2" height="10.0" rx="0.8" fill="#4682b4"/>
<rect x="99.6" y="131.0" width="2.2" height="13.0" rx="0.8" fill="#4682b4"/>
<rect x="103.9" y="134.0" width="2.2" height="10.0" rx="0.8" fill="#4682b4"/>
<rect x="75.4" y="113.0" width="2.2" height="15.0" rx="0.8" fill="#4682b4"/>
<rect x="87.9" y="110.0" width="2.2" height="18.0" rx="0.8" fill="#4682b4"/>
<rect x="74.6" y="110.0" width="2.2" height="8.0" rx="0.8" fill="#4682b4"/>
<rect x="90.9" y="124.0" width="2.2" height="4.0" rx="0.8" fill="#4682b4"/>
<rect x="49.9" y="74.4" width="2.2" height="11.6" rx="0.8" fill="#4682b4"/>
<rect x="52.5" y="71.8" width="2.5" height="14.2" rx="0.8" fill="#4682b4"/>
<rect x="56.4" y="76.6" width="2.2" height="9.4" rx="0.8" fill="#4682b4"/>
<rect x="61.0" y="75.0" width="3.0" height="24.0" rx="0.8" fill="#4682b4"/>
<rect x="67.5" y="83.6" width="2.5" height="10.9" rx="0.8" fill="#4682b4"/>
<rect x="73.4" y="142.0" width="2.2" height="13.0" rx="0.8" fill="#4682b4"/>
<rect x="33.9" y="150.0" width="2.2" height="6.0" rx="0.8" fill="#4682b4"/>
<rect x="150.1" y="159.5" width="2.4" height="5.0" rx="0.8" fill="#4682b4"/>
<rect x="183.0" y="153.0" width="2.4" height="8.0" rx="0.8" fill="#4682b4"/>
<rect x="205.5" y="164.5" width="2.4" height="7.0" rx="0.8" fill="#4682b4"/>
<rect x="50.9" y="145.0" width="2.2" height="6.0" rx="0.8" fill="#4682b4"/>
<rect x="55.9" y="146.0" width="2.2" height="4.0" rx="0.8" fill="#4682b4"/>
<rect x="62.9" y="143.0" width="2.2" height="6.0" rx="0.8" fill="#4682b4"/>
<rect x="31.9" y="145.0" width="2.2" height="7.0" rx="0.8" fill="#4682b4"/>
<rect x="42.9" y="140.0" width="2.2" height="6.0" rx="0.8" fill="#4682b4"/>
<rect x="47.9" y="141.0" width="2.2" height="7.0" rx="0.8" fill="#4682b4"/>
<rect x="52.4" y="142.0" width="2.2" height="7.0" rx="0.8" fill="#4682b4"/>
<rect x="58.9" y="145.0" width="2.2" height="5.0" rx="0.8" fill="#4682b4"/>
<rect x="64.9" y="142.0" width="2.2" height="6.0" rx="0.8" fill="#4682b4"/>
<rect x="68.9" y="142.0" width="2.2" height="9.0" rx="0.8" fill="#4682b4"/>
<rect x="93.4" y="112.0" width="2.2" height="10.0" rx="0.8" fill="#4682b4"/>
<rect x="94.4" y="128.0" width="2.2" height="12.0" rx="0.8" fill="#4682b4"/>
<rect x="101.4" y="136.0" width="2.2" height="10.0" rx="0.8" fill="#4682b4"/>
<rect x="97.9" y="118.0" width="2.2" height="8.0" rx="0.8" fill="#4682b4"/>
<rect x="84.9" y="128.0" width="2.2" height="18.0" rx="0.8" fill="#4682b4"/>
<circle cx="94.2" cy="81.2" r="1.1" fill="#4682b4"/>
<circle cx="105.7" cy="90.9" r="1.1" fill="#4682b4"/>
<circle cx="91.0" cy="155.8" r="1.1" fill="#4682b4"/>
<circle cx="115.0" cy="161.5" r="1.1" fill="#4682b4"/>
<circle cx="157.5" cy="162.5" r="1.1" fill="#4682b4"/>
<circle cx="184.4" cy="146.6" r="1.1" fill="#4682b4"/>
<circle cx="94.0" cy="74.4" r="1.1" fill="#4682b4"/>
<circle cx="97.5" cy="116.0" r="1.1" fill="#4682b4"/>
<circle cx="97.5" cy="120.0" r="1.1" fill="#4682b4"/>
<circle cx="97.5" cy="126.0" r="1.1" fill="#4682b4"/>
<path fill="#95a7c6" d="M73.6,9.6h1.8v1.8h-1.8zM48.9,20.1h1.8v1.8h-1.8zM72.1,27.6h1.8v1.8h-1.8zM42.3,28.8h1.8v1.8h-1.8zM109.5,33.1h1.8v1.8h-1.8zM57.1,38.1h1.8v1.8h-1.8zM35.5,36.7h1.8v1.8h-1.8zM41.5,50.7h1.8v1.8h-1.8zM57.5,56.7h1.8v1.8h-1.8zM64.7,60.1h1.8v1.8h-1.8zM84.7,70.7h1.8v1.8h-1.8zM101.5,70.7h1.8v1.8h-1.8zM114.7,76.1h1.8v1.8h-1.8zM73.5,74.7h1.8v1.8h-1.8zM35.6,36.9h1.8v1.8h-1.8zM58.1,37.4h1.8v1.8h-1.8zM56.9,39.6h1.8v1.8h-1.8zM34.9,42.1h1.8v1.8h-1.8zM53.6,66.1h1.8v1.8h-1.8zM60.1,64.1h1.8v1.8h-1.8zM60.1,66.1h1.8v1.8h-1.8zM63.6,68.6h1.8v1.8h-1.8zM50.1,64.1h1.8v1.8h-1.8zM95.1,76.5h1.8v1.8h-1.8zM102.1,78.1h1.8v1.8h-1.8zM110.7,78.5h1.8v1.8h-1.8zM123.9,82.6h1.8v1.8h-1.8zM139.3,84.6h1.8v1.8h-1.8zM106.1,85.1h1.8v1.8h-1.8zM109.1,86.1h1.8v1.8h-1.8zM111.9,87.3h1.8v1.8h-1.8zM115.1,87.9h1.8v1.8h-1.8zM118.4,87.6h1.8v1.8h-1.8zM120.6,89.4h1.8v1.8h-1.8zM117.1,91.3h1.8v1.8h-1.8zM109.1,90.6h1.8v1.8h-1.8zM115.1,93.6h1.8v1.8h-1.8zM109.1,93.1h1.8v1.8h-1.8zM188.7,96.5h1.8v1.8h-1.8zM150.7,95.1h1.8v1.8h-1.8zM161.5,99.7h1.8v1.8h-1.8zM134.1,99.1h1.8v1.8h-1.8zM145.1,99.1h1.8v1.8h-1.8zM174.1,104.7h1.8v1.8h-1.8zM173.9,104.6h1.8v1.8h-1.8zM175.1,109.1h1.8v1.8h-1.8zM175.6,111.1h1.8v1.8h-1.8zM184.6,108.6h1.8v1.8h-1.8zM184.6,110.6h1.8v1.8h-1.8zM179.6,112.6h1.8v1.8h-1.8zM179.6,114.6h1.8v1.8h-1.8zM177.1,115.6h1.8v1.8h-1.8zM184.6,115.1h1.8v1.8h-1.8zM189.6,116.1h1.8v1.8h-1.8zM167.1,115.1h1.8v1.8h-1.8zM169.1,115.1h1.8v1.8h-1.8zM223.1,113.6h1.8v1.8h-1.8zM223.1,115.6h1.8v1.8h-1.8zM223.1,117.6h1.8v1.8h-1.8zM223.1,119.1h1.8v1.8h-1.8zM186.6,122.6h1.8v1.8h-1.8zM189.6,120.1h1.8v1.8h-1.8zM189.6,122.1h1.8v1.8h-1.8zM189.6,124.1h1.8v1.8h-1.8zM193.6,121.1h1.8v1.8h-1.8zM200.1,119.6h1.8v1.8h-1.8zM222.6,120.6h1.8v1.8h-1.8zM176.6,127.9h1.8v1.8h-1.8zM186.6,128.6h1.8v1.8h-1.8zM196.6,126.6h1.8v1.8h-1.8zM202.1,127.6h1.8v1.8h-1.8zM202.1,129.6h1.8v1.8h-1.8zM202.1,131.1h1.8v1.8h-1.8zM230.6,130.6h1.8v1.8h-1.8zM176.6,131.9h1.8v1.8h-1.8zM194.6,134.6h1.8v1.8h-1.8zM207.1,133.6h1.8v1.8h-1.8zM218.1,133.1h1.8v1.8h-1.8zM218.1,135.1h1.8v1.8h-1.8zM220.1,136.6h1.8v1.8h-1.8zM223.1,137.6h1.8v1.8h-1.8zM224.6,137.6h1.8v1.8h-1.8zM177.6,137.1h1.8v1.8h-1.8zM194.6,139.6h1.8v1.8h-1.8zM202.1,141.1h1.8v1.8h-1.8zM186.1,142.6h1.8v1.8h-1.8zM192.1,143.6h1.8v1.8h-1.8zM239.1,143.6h1.8v1.8h-1.8zM175.6,192.1h1.8v1.8h-1.8zM175.6,194.6h1.8v1.8h-1.8zM175.6,197.1h1.8v1.8h-1.8zM175.6,200.1h1.8v1.8h-1.8zM187.6,189.6h1.8v1.8h-1.8zM199.6,191.6h1.8v1.8h-1.8zM202.6,188.1h1.8v1.8h-1.8zM205.1,189.1h1.8v1.8h-1.8zM206.1,191.1h1.8v1.8h-1.8zM207.1,192.6h1.8v1.8h-1.8zM209.1,191.1h1.8v1.8h-1.8zM212.1,189.1h1.8v1.8h-1.8zM214.1,191.1h1.8v1.8h-1.8zM215.1,193.1h1.8v1.8h-1.8zM207.1,195.1h1.8v1.8h-1.8zM209.1,195.1h1.8v1.8h-1.8zM211.1,195.1h1.8v1.8h-1.8zM213.1,195.1h1.8v1.8h-1.8zM216.1,194.1h1.8v1.8h-1.8zM208.1,199.1h1.8v1.8h-1.8zM212.1,199.1h1.8v1.8h-1.8zM216.1,197.1h1.8v1.8h-1.8zM216.1,199.1h1.8v1.8h-1.8zM217.1,201.1h1.8v1.8h-1.8zM215.1,204.1h1.8v1.8h-1.8zM223.6,199.1h1.8v1.8h-1.8zM227.1,196.9h1.8v1.8h-1.8zM230.6,189.1h1.8v1.8h-1.8zM235.1,191.6h1.8v1.8h-1.8zM238.6,191.6h1.8v1.8h-1.8zM229.1,187.1h1.8v1.8h-1.8zM238.1,188.1h1.8v1.8h-1.8zM53.9,151.3h1.8v1.8h-1.8zM60.9,167.1h1.8v1.8h-1.8z"/><rect x="74.9" y="114.6" width="12.3" height="12.5" fill="none" stroke="#d8262e" stroke-width="1.7"/><circle cx="81.6" cy="120.8" r="1.8" fill="#000"/><rect x="28.3" y="4.8" width="216.1" height="223.6" fill="none" stroke="#6a6a6a" stroke-width="1.3"/><path d="M28.4,228.4V225.9M28.4,4.7V7.2M71.6,228.4V225.9M71.6,4.7V7.2M114.8,228.4V225.9M114.8,4.7V7.2M158.0,228.4V225.9M158.0,4.7V7.2M201.2,228.4V225.9M201.2,4.7V7.2M244.4,228.4V225.9M244.4,4.7V7.2M28.4,4.7H30.9M244.4,4.7H241.9M28.4,42.0H30.9M244.4,42.0H241.9M28.4,79.3H30.9M244.4,79.3H241.9M28.4,116.6H30.9M244.4,116.6H241.9M28.4,153.8H30.9M244.4,153.8H241.9M28.4,191.1H30.9M244.4,191.1H241.9M28.4,228.4H30.9M244.4,228.4H241.9" stroke="#888" stroke-width="0.9" fill="none"/><text x="27.9" y="235" text-anchor="middle" class="t">0</text>
<text x="71.1" y="235" text-anchor="middle" class="t">200</text>
<text x="114.3" y="235" text-anchor="middle" class="t">400</text>
<text x="157.5" y="235" text-anchor="middle" class="t">600</text>
<text x="200.7" y="235" text-anchor="middle" class="t">800</text>
<text x="243.9" y="235" text-anchor="middle" class="t" textLength="14.8" lengthAdjust="spacingAndGlyphs">1000</text>
<text x="24.9" y="6.7" text-anchor="end" class="t" style="font-size:7.4px">10</text>
<text x="24.9" y="44.0" text-anchor="end" class="t" style="font-size:7.4px">5</text>
<text x="24.9" y="81.3" text-anchor="end" class="t" style="font-size:7.4px">0</text>
<text x="24.9" y="118.6" text-anchor="end" class="t" style="font-size:7.9px">−5</text>
<text x="24.9" y="155.8" text-anchor="end" class="t" style="font-size:7.9px">−10</text>
<text x="24.9" y="193.1" text-anchor="end" class="t" style="font-size:7.9px">−15</text>
<text x="24.9" y="230.4" text-anchor="end" class="t" style="font-size:7.9px">−20</text>
<text x="89" y="247.9" textLength="93.5" lengthAdjust="spacingAndGlyphs" class="al">Number of residues</text>
<text transform="translate(10.4,140.2) rotate(-90)" textLength="42.5" lengthAdjust="spacingAndGlyphs" class="al">Z-score</text>
<rect x="191.5" y="8.5" width="49.5" height="28" fill="#fff" stroke="#444" stroke-width="0.9"/>
<rect x="193" y="13.3" width="17" height="5.1" fill="#b0c4de"/>
<rect x="193" y="25.6" width="17" height="5.3" fill="#4682b4"/>
<text x="216" y="18.8" textLength="20" lengthAdjust="spacingAndGlyphs" class="lg">X-ray</text>
<text x="216" y="31.3" textLength="17.2" lengthAdjust="spacingAndGlyphs" class="lg">NMR</text></g>
<g transform="translate(531,0)"><path fill="#b0c4de" d="M29,50h2v88h-2zM31,48h2v92h-2zM33,50h2v90h-2zM35,52h2v2h-2zM35,56h2v84h-2zM37,56h2v86h-2zM39,58h2v84h-2zM41,58h2v2h-2zM41,62h2v80h-2zM43,58h2v86h-2zM45,60h2v2h-2zM45,64h2v82h-2zM47,64h2v82h-2zM49,66h2v2h-2zM49,70h2v76h-2zM51,66h2v82h-2zM53,68h2v2h-2zM53,72h2v78h-2zM55,72h2v78h-2zM57,70h2v4h-2zM57,76h2v76h-2zM59,76h2v76h-2zM61,80h2v74h-2zM63,74h2v2h-2zM63,80h2v4h-2zM63,86h2v68h-2zM65,84h2v72h-2zM67,82h2v8h-2zM67,92h2v64h-2zM69,80h2v2h-2zM69,84h2v74h-2zM71,80h2v2h-2zM71,84h2v2h-2zM71,88h2v16h-2zM71,106h2v52h-2zM73,88h2v70h-2zM75,80h2v2h-2zM75,84h2v4h-2zM75,90h2v10h-2zM75,102h2v58h-2zM77,82h2v2h-2zM77,88h2v74h-2zM79,84h2v2h-2zM79,88h2v74h-2zM81,90h2v74h-2zM83,84h2v4h-2zM83,90h2v4h-2zM83,96h2v4h-2zM83,102h2v62h-2zM85,86h2v4h-2zM85,94h2v6h-2zM85,102h2v64h-2zM87,86h2v14h-2zM87,102h2v66h-2zM89,88h2v16h-2zM89,106h2v62h-2zM91,92h2v76h-2zM93,90h2v2h-2zM93,94h2v76h-2zM95,90h2v2h-2zM95,96h2v8h-2zM95,106h2v64h-2zM97,96h2v2h-2zM97,100h2v2h-2zM97,104h2v68h-2zM99,92h2v2h-2zM99,96h2v4h-2zM99,102h2v70h-2zM101,94h2v2h-2zM101,98h2v6h-2zM101,106h2v66h-2zM103,96h2v2h-2zM103,100h2v2h-2zM103,104h2v68h-2zM105,96h2v2h-2zM105,100h2v74h-2zM107,100h2v74h-2zM109,102h2v2h-2zM109,106h2v4h-2zM109,112h2v62h-2zM111,98h2v78h-2zM113,98h2v4h-2zM113,108h2v4h-2zM113,114h2v62h-2zM115,100h2v74h-2zM117,102h2v74h-2zM119,104h2v4h-2zM119,110h2v6h-2zM119,118h2v58h-2zM121,104h2v14h-2zM121,120h2v56h-2zM123,102h2v2h-2zM123,106h2v2h-2zM123,110h2v8h-2zM123,120h2v58h-2zM125,106h2v70h-2zM127,106h2v2h-2zM127,114h2v62h-2zM129,106h2v2h-2zM129,112h2v4h-2zM129,120h2v58h-2zM131,110h2v6h-2zM131,118h2v60h-2zM133,112h2v64h-2zM135,110h2v2h-2zM135,114h2v6h-2zM135,122h2v56h-2zM137,116h2v2h-2zM137,120h2v12h-2zM137,134h2v44h-2zM139,118h2v2h-2zM139,122h2v54h-2zM139,178h2v2h-2zM141,114h2v62h-2zM143,114h2v2h-2zM143,118h2v60h-2zM145,118h2v4h-2zM145,126h2v6h-2zM145,134h2v44h-2zM147,122h2v4h-2zM147,128h2v52h-2zM149,122h2v2h-2zM149,126h2v8h-2zM149,136h2v44h-2zM151,122h2v10h-2zM151,136h2v42h-2zM153,120h2v2h-2zM153,124h2v8h-2zM153,134h2v44h-2zM153,180h2v4h-2zM155,124h2v58h-2zM157,120h2v6h-2zM157,128h2v6h-2zM157,136h2v42h-2zM157,180h2v4h-2zM159,128h2v6h-2zM159,136h2v48h-2zM161,122h2v2h-2zM161,128h2v12h-2zM161,142h2v38h-2zM163,126h2v8h-2zM163,136h2v44h-2zM163,182h2v2h-2zM165,126h2v6h-2zM165,134h2v2h-2zM165,138h2v42h-2zM167,126h2v2h-2zM167,132h2v48h-2zM167,182h2v2h-2zM169,126h2v4h-2zM169,132h2v6h-2zM169,140h2v40h-2zM171,130h2v2h-2zM171,136h2v50h-2zM173,128h2v2h-2zM173,136h2v4h-2zM173,142h2v2h-2zM173,146h2v38h-2zM175,132h2v50h-2zM175,184h2v2h-2zM177,132h2v2h-2zM177,138h2v40h-2zM177,182h2v2h-2zM177,186h2v2h-2zM179,134h2v8h-2zM179,144h2v40h-2zM179,186h2v2h-2zM181,134h2v8h-2zM181,144h2v38h-2zM181,186h2v2h-2zM183,136h2v8h-2zM183,146h2v2h-2zM183,150h2v20h-2zM183,172h2v12h-2zM183,188h2v2h-2zM185,140h2v8h-2zM185,150h2v30h-2zM185,182h2v2h-2zM185,186h2v2h-2zM187,132h2v12h-2zM187,146h2v8h-2zM187,156h2v28h-2zM189,136h2v48h-2zM189,188h2v2h-2zM191,134h2v4h-2zM191,140h2v4h-2zM191,146h2v2h-2zM191,152h2v2h-2zM191,156h2v30h-2zM193,134h2v54h-2zM195,142h2v42h-2zM195,186h2v2h-2zM197,136h2v2h-2zM197,142h2v2h-2zM197,146h2v34h-2zM197,188h2v2h-2zM199,138h2v10h-2zM199,150h2v14h-2zM199,168h2v18h-2zM199,188h2v2h-2zM201,144h2v20h-2zM201,166h2v14h-2zM201,182h2v2h-2zM201,186h2v4h-2zM203,138h2v34h-2zM203,174h2v6h-2zM203,186h2v4h-2zM205,142h2v2h-2zM205,146h2v2h-2zM205,150h2v2h-2zM205,154h2v8h-2zM205,164h2v18h-2zM205,184h2v2h-2zM205,188h2v2h-2zM207,142h2v18h-2zM207,162h2v10h-2zM207,174h2v12h-2zM207,190h2v2h-2zM209,138h2v4h-2zM209,144h2v6h-2zM209,156h2v2h-2zM209,160h2v8h-2zM209,170h2v12h-2zM209,186h2v6h-2zM211,144h2v14h-2zM211,160h2v10h-2zM211,172h2v2h-2zM211,176h2v10h-2zM211,190h2v2h-2zM213,140h2v2h-2zM213,144h2v2h-2zM213,148h2v8h-2zM213,158h2v8h-2zM213,168h2v6h-2zM213,180h2v6h-2zM213,188h2v4h-2zM215,140h2v4h-2zM215,146h2v10h-2zM215,158h2v2h-2zM215,162h2v4h-2zM215,168h2v8h-2zM215,178h2v10h-2zM215,190h2v2h-2zM217,144h2v2h-2zM217,148h2v4h-2zM217,154h2v8h-2zM217,164h2v26h-2zM217,192h2v2h-2zM219,148h2v6h-2zM219,156h2v2h-2zM219,160h2v4h-2zM219,174h2v8h-2zM219,184h2v4h-2zM219,190h2v2h-2zM221,144h2v24h-2zM221,170h2v2h-2zM221,174h2v18h-2zM223,144h2v2h-2zM223,148h2v8h-2zM223,160h2v10h-2zM223,174h2v6h-2zM223,182h2v2h-2zM223,186h2v2h-2zM223,190h2v2h-2zM225,142h2v10h-2zM225,154h2v2h-2zM225,158h2v4h-2zM225,170h2v2h-2zM225,174h2v14h-2zM225,192h2v2h-2zM227,146h2v16h-2zM227,166h2v10h-2zM227,178h2v12h-2zM227,192h2v2h-2zM229,144h2v8h-2zM229,154h2v2h-2zM229,160h2v2h-2zM229,164h2v6h-2zM229,174h2v2h-2zM229,180h2v2h-2zM229,184h2v8h-2zM231,148h2v8h-2zM231,160h2v2h-2zM231,164h2v10h-2zM231,176h2v2h-2zM231,180h2v4h-2zM231,186h2v2h-2zM231,190h2v2h-2zM233,144h2v4h-2zM233,150h2v8h-2zM233,162h2v2h-2zM233,168h2v4h-2zM233,174h2v2h-2zM233,178h2v12h-2zM233,192h2v2h-2zM235,148h2v8h-2zM235,158h2v2h-2zM235,162h2v2h-2zM235,166h2v12h-2zM235,182h2v2h-2zM235,186h2v4h-2zM235,192h2v2h-2zM237,144h2v12h-2zM237,168h2v8h-2zM237,178h2v16h-2zM239,152h2v2h-2zM239,156h2v8h-2zM239,166h2v12h-2zM239,180h2v6h-2zM239,190h2v2h-2zM241,146h2v8h-2zM241,156h2v2h-2zM241,160h2v2h-2zM241,166h2v2h-2zM241,170h2v6h-2zM241,182h2v8h-2zM241,192h2v2h-2zM243,144h2v10h-2zM243,156h2v2h-2zM243,162h2v8h-2zM243,172h2v2h-2zM243,176h2v2h-2zM243,180h2v8h-2zM243,192h2v2h-2z"/>
<path fill="#a2b7d6" d="M35,50h2v2h-2zM49,62h2v2h-2zM53,62h2v2h-2zM53,64h2v2h-2zM63,154h2v2h-2zM65,72h2v2h-2zM69,76h2v2h-2zM79,78h2v2h-2zM81,80h2v2h-2zM85,82h2v2h-2zM85,84h2v2h-2zM89,84h2v2h-2zM91,86h2v2h-2zM97,88h2v2h-2zM101,90h2v2h-2zM111,94h2v2h-2zM113,94h2v2h-2zM121,100h2v2h-2zM125,102h2v2h-2zM127,104h2v2h-2zM133,108h2v2h-2zM143,180h2v2h-2zM145,112h2v2h-2zM145,114h2v2h-2zM149,116h2v2h-2zM153,184h2v2h-2zM161,120h2v2h-2zM163,122h2v2h-2zM165,120h2v2h-2zM165,122h2v2h-2zM169,122h2v2h-2zM171,186h2v2h-2zM177,126h2v2h-2zM177,128h2v2h-2zM177,188h2v2h-2zM181,188h2v2h-2zM181,190h2v2h-2zM183,130h2v2h-2zM189,190h2v2h-2zM191,192h2v2h-2zM195,190h2v2h-2zM197,190h2v2h-2zM203,136h2v2h-2zM205,134h2v2h-2zM205,192h2v2h-2zM205,194h2v2h-2zM209,194h2v2h-2zM211,138h2v2h-2zM211,192h2v2h-2zM213,192h2v2h-2zM219,194h2v2h-2zM223,140h2v2h-2zM225,194h2v2h-2zM233,142h2v2h-2zM235,142h2v2h-2zM235,194h2v2h-2zM237,194h2v2h-2zM243,194h2v2h-2z"/>
<polygon fill="#4682b4" points="28.5,5.0 30.5,5.0 30.5,7.0 30.6,9.0 30.6,11.0 30.7,13.0 30.7,15.0 30.7,17.0 30.8,19.0 30.8,21.0 30.9,23.0 30.9,25.0 30.9,27.0 31.0,29.0 31.0,31.0 31.0,33.0 31.0,35.0 31.0,37.0 31.0,39.0 31.0,41.0 31.0,43.0 31.0,45.0 31.0,47.0 31.1,49.0 31.2,51.0 31.4,53.0 31.5,55.0 31.7,57.0 31.9,59.0 32.7,61.0 34.1,63.0 35.5,65.0 37.5,67.0 39.5,69.0 41.5,71.0 43.5,73.0 45.5,75.0 47.9,77.0 50.3,79.0 52.5,81.0 54.5,83.0 56.5,85.0 58.0,87.0 59.4,89.0 60.8,91.0 62.1,93.0 63.3,95.0 64.4,97.0 65.5,99.0 66.4,101.0 67.3,103.0 68.2,105.0 68.8,107.0 69.5,109.0 70.1,111.0 70.5,113.0 71.0,115.0 71.4,117.0 71.9,119.0 72.3,121.0 72.8,123.0 73.3,125.0 73.8,127.0 78.0,130.0 81.0,128.0 88.0,128.0 90.0,131.0 90.0,139.0 88.0,140.0 86.0,146.5 81.0,146.5 80.0,141.0 77.0,141.0 74.5,142.0 72.0,142.0 68.0,143.0 64.0,142.0 61.0,147.0 58.0,145.0 55.0,143.0 50.0,142.0 45.0,141.0 42.0,139.0 40.0,137.0 38.0,143.0 36.0,147.0 34.0,150.0 32.0,151.0 30.5,149.0 30.5,116.0 28.5,116.0"/>
<path fill="#4682b4" d="M30.2,5.0h2v2h-2zM30.4,7.0h2v2h-2zM30.8,11.0h2v2h-2zM30.5,13.0h2v2h-2zM30.7,15.0h2v2h-2zM30.8,17.0h2v2h-2zM30.7,19.0h2v2h-2zM31.1,21.0h2v2h-2zM30.7,27.0h2v2h-2zM31.1,29.0h2v2h-2zM31.0,31.0h2v2h-2zM31.1,33.0h2v2h-2zM30.9,35.0h2v2h-2zM31.1,37.0h2v2h-2zM31.0,43.0h2v2h-2zM31.2,45.0h2v2h-2zM31.1,47.0h2v2h-2zM31.1,49.0h2v2h-2zM33.6,51.0h2v2h-2zM31.3,55.0h2v2h-2zM32.1,57.0h2v2h-2zM34.0,59.0h2v2h-2zM35.9,59.0h2v2h-2zM33.6,61.0h2v2h-2zM35.5,61.0h2v2h-2zM37.3,61.0h2v2h-2zM34.9,63.0h2v2h-2zM36.5,65.0h2v2h-2zM40.4,65.0h2v2h-2zM40.2,67.0h2v2h-2zM40.6,69.0h2v2h-2zM46.5,69.0h2v2h-2zM42.3,71.0h2v2h-2zM44.3,71.0h2v2h-2zM46.5,71.0h2v2h-2zM44.4,73.0h2v2h-2zM48.7,73.0h2v2h-2zM50.8,73.0h2v2h-2zM54.6,73.0h2v2h-2zM46.6,75.0h2v2h-2zM48.6,75.0h2v2h-2zM50.6,75.0h2v2h-2zM52.9,75.0h2v2h-2zM51.2,79.0h2v2h-2zM53.4,79.0h2v2h-2zM57.7,79.0h2v2h-2zM59.5,79.0h2v2h-2zM53.6,81.0h2v2h-2zM55.6,81.0h2v2h-2zM57.6,81.0h2v2h-2zM55.4,83.0h2v2h-2zM59.3,83.0h2v2h-2zM57.1,85.0h2v2h-2zM58.4,87.0h2v2h-2zM60.6,87.0h2v2h-2zM62.6,87.0h2v2h-2zM64.4,87.0h2v2h-2zM60.0,89.0h2v2h-2zM62.3,89.0h2v2h-2zM64.0,89.0h2v2h-2zM61.4,91.0h2v2h-2zM63.4,91.0h2v2h-2zM65.6,91.0h2v2h-2zM62.7,93.0h2v2h-2zM64.5,93.0h2v2h-2zM67.0,93.0h2v2h-2zM66.0,95.0h2v2h-2zM65.0,97.0h2v2h-2zM67.0,97.0h2v2h-2zM68.8,97.0h2v2h-2zM66.0,99.0h2v2h-2zM68.2,99.0h2v2h-2zM66.8,101.0h2v2h-2zM68.6,101.0h2v2h-2zM71.1,101.0h2v2h-2zM68.6,105.0h2v2h-2zM70.5,105.0h2v2h-2zM69.3,107.0h2v2h-2zM71.3,107.0h2v2h-2zM69.8,109.0h2v2h-2zM70.4,111.0h2v2h-2zM72.3,111.0h2v2h-2zM70.9,113.0h2v2h-2zM71.1,115.0h2v2h-2zM71.5,117.0h2v2h-2zM72.7,121.0h2v2h-2zM73.1,123.0h2v2h-2zM73.7,125.0h2v2h-2zM74.2,127.0h2v2h-2z"/>
<path fill="#8cb0d6" d="M31.4,6.0h1.3v1.3h-1.3zM30.5,8.2h1.3v1.3h-1.3zM30.0,12.6h1.3v1.3h-1.3zM29.8,14.8h1.3v1.3h-1.3zM30.8,17.0h1.3v1.3h-1.3zM31.4,21.4h1.3v1.3h-1.3zM31.0,41.2h1.3v1.3h-1.3zM31.0,47.8h1.3v1.3h-1.3z"/>
<rect x="45.9" y="56.0" width="2.2" height="10.0" rx="0.8" fill="#4682b4"/>
<rect x="60.8" y="78.0" width="2.4" height="18.0" rx="0.8" fill="#4682b4"/>
<rect x="66.9" y="84.0" width="2.2" height="12.0" rx="0.8" fill="#4682b4"/>
<rect x="71.9" y="92.0" width="2.2" height="10.0" rx="0.8" fill="#4682b4"/>
<rect x="75.3" y="101.0" width="2.2" height="11.0" rx="0.8" fill="#4682b4"/>
<rect x="78.9" y="102.0" width="2.2" height="10.0" rx="0.8" fill="#4682b4"/>
<rect x="82.5" y="92.0" width="2.2" height="9.0" rx="0.8" fill="#4682b4"/>
<rect x="87.1" y="97.0" width="2.2" height="15.0" rx="0.8" fill="#4682b4"/>
<rect x="90.4" y="81.6" width="2.2" height="8.4" rx="0.8" fill="#4682b4"/>
<rect x="90.7" y="104.0" width="2.2" height="6.0" rx="0.8" fill="#4682b4"/>
<rect x="96.9" y="109.0" width="2.2" height="10.0" rx="0.8" fill="#4682b4"/>
<rect x="90.3" y="123.0" width="2.2" height="14.0" rx="0.8" fill="#4682b4"/>
<rect x="105.0" y="133.0" width="2.6" height="24.0" rx="0.8" fill="#4682b4"/>
<rect x="105.1" y="157.0" width="2.3" height="12.5" rx="0.8" fill="#4682b4"/>
<rect x="96.8" y="134.0" width="2.2" height="10.0" rx="0.8" fill="#4682b4"/>
<rect x="99.6" y="131.0" width="2.2" height="13.0" rx="0.8" fill="#4682b4"/>
<rect x="103.9" y="134.0" width="2.2" height="10.0" rx="0.8" fill="#4682b4"/>
<rect x="75.4" y="113.0" width="2.2" height="15.0" rx="0.8" fill="#4682b4"/>
<rect x="87.9" y="110.0" width="2.2" height="18.0" rx="0.8" fill="#4682b4"/>
<rect x="74.6" y="110.0" width="2.2" height="8.0" rx="0.8" fill="#4682b4"/>
<rect x="90.9" y="124.0" width="2.2" height="4.0" rx="0.8" fill="#4682b4"/>
<rect x="49.9" y="74.4" width="2.2" height="11.6" rx="0.8" fill="#4682b4"/>
<rect x="52.5" y="71.8" width="2.5" height="14.2" rx="0.8" fill="#4682b4"/>
<rect x="56.4" y="76.6" width="2.2" height="9.4" rx="0.8" fill="#4682b4"/>
<rect x="61.0" y="75.0" width="3.0" height="24.0" rx="0.8" fill="#4682b4"/>
<rect x="67.5" y="83.6" width="2.5" height="10.9" rx="0.8" fill="#4682b4"/>
<rect x="73.4" y="142.0" width="2.2" height="13.0" rx="0.8" fill="#4682b4"/>
<rect x="33.9" y="150.0" width="2.2" height="6.0" rx="0.8" fill="#4682b4"/>
<rect x="150.1" y="159.5" width="2.4" height="5.0" rx="0.8" fill="#4682b4"/>
<rect x="183.0" y="153.0" width="2.4" height="8.0" rx="0.8" fill="#4682b4"/>
<rect x="205.5" y="164.5" width="2.4" height="7.0" rx="0.8" fill="#4682b4"/>
<rect x="50.9" y="145.0" width="2.2" height="6.0" rx="0.8" fill="#4682b4"/>
<rect x="55.9" y="146.0" width="2.2" height="4.0" rx="0.8" fill="#4682b4"/>
<rect x="62.9" y="143.0" width="2.2" height="6.0" rx="0.8" fill="#4682b4"/>
<rect x="31.9" y="145.0" width="2.2" height="7.0" rx="0.8" fill="#4682b4"/>
<rect x="42.9" y="140.0" width="2.2" height="6.0" rx="0.8" fill="#4682b4"/>
<rect x="47.9" y="141.0" width="2.2" height="7.0" rx="0.8" fill="#4682b4"/>
<rect x="52.4" y="142.0" width="2.2" height="7.0" rx="0.8" fill="#4682b4"/>
<rect x="58.9" y="145.0" width="2.2" height="5.0" rx="0.8" fill="#4682b4"/>
<rect x="64.9" y="142.0" width="2.2" height="6.0" rx="0.8" fill="#4682b4"/>
<rect x="68.9" y="142.0" width="2.2" height="9.0" rx="0.8" fill="#4682b4"/>
<rect x="93.4" y="112.0" width="2.2" height="10.0" rx="0.8" fill="#4682b4"/>
<rect x="94.4" y="128.0" width="2.2" height="12.0" rx="0.8" fill="#4682b4"/>
<rect x="101.4" y="136.0" width="2.2" height="10.0" rx="0.8" fill="#4682b4"/>
<rect x="97.9" y="118.0" width="2.2" height="8.0" rx="0.8" fill="#4682b4"/>
<rect x="84.9" y="128.0" width="2.2" height="18.0" rx="0.8" fill="#4682b4"/>
<circle cx="94.2" cy="81.2" r="1.1" fill="#4682b4"/>
<circle cx="105.7" cy="90.9" r="1.1" fill="#4682b4"/>
<circle cx="91.0" cy="155.8" r="1.1" fill="#4682b4"/>
<circle cx="115.0" cy="161.5" r="1.1" fill="#4682b4"/>
<circle cx="157.5" cy="162.5" r="1.1" fill="#4682b4"/>
<circle cx="184.4" cy="146.6" r="1.1" fill="#4682b4"/>
<circle cx="94.0" cy="74.4" r="1.1" fill="#4682b4"/>
<circle cx="97.5" cy="116.0" r="1.1" fill="#4682b4"/>
<circle cx="97.5" cy="120.0" r="1.1" fill="#4682b4"/>
<circle cx="97.5" cy="126.0" r="1.1" fill="#4682b4"/>
<path fill="#95a7c6" d="M73.6,9.6h1.8v1.8h-1.8zM48.9,20.1h1.8v1.8h-1.8zM72.1,27.6h1.8v1.8h-1.8zM42.3,28.8h1.8v1.8h-1.8zM109.5,33.1h1.8v1.8h-1.8zM57.1,38.1h1.8v1.8h-1.8zM35.5,36.7h1.8v1.8h-1.8zM41.5,50.7h1.8v1.8h-1.8zM57.5,56.7h1.8v1.8h-1.8zM64.7,60.1h1.8v1.8h-1.8zM84.7,70.7h1.8v1.8h-1.8zM101.5,70.7h1.8v1.8h-1.8zM114.7,76.1h1.8v1.8h-1.8zM73.5,74.7h1.8v1.8h-1.8zM35.6,36.9h1.8v1.8h-1.8zM58.1,37.4h1.8v1.8h-1.8zM56.9,39.6h1.8v1.8h-1.8zM34.9,42.1h1.8v1.8h-1.8zM53.6,66.1h1.8v1.8h-1.8zM60.1,64.1h1.8v1.8h-1.8zM60.1,66.1h1.8v1.8h-1.8zM63.6,68.6h1.8v1.8h-1.8zM50.1,64.1h1.8v1.8h-1.8zM95.1,76.5h1.8v1.8h-1.8zM102.1,78.1h1.8v1.8h-1.8zM110.7,78.5h1.8v1.8h-1.8zM123.9,82.6h1.8v1.8h-1.8zM139.3,84.6h1.8v1.8h-1.8zM106.1,85.1h1.8v1.8h-1.8zM109.1,86.1h1.8v1.8h-1.8zM111.9,87.3h1.8v1.8h-1.8zM115.1,87.9h1.8v1.8h-1.8zM118.4,87.6h1.8v1.8h-1.8zM120.6,89.4h1.8v1.8h-1.8zM117.1,91.3h1.8v1.8h-1.8zM109.1,90.6h1.8v1.8h-1.8zM115.1,93.6h1.8v1.8h-1.8zM109.1,93.1h1.8v1.8h-1.8zM188.7,96.5h1.8v1.8h-1.8zM150.7,95.1h1.8v1.8h-1.8zM161.5,99.7h1.8v1.8h-1.8zM134.1,99.1h1.8v1.8h-1.8zM145.1,99.1h1.8v1.8h-1.8zM174.1,104.7h1.8v1.8h-1.8zM173.9,104.6h1.8v1.8h-1.8zM175.1,109.1h1.8v1.8h-1.8zM175.6,111.1h1.8v1.8h-1.8zM184.6,108.6h1.8v1.8h-1.8zM184.6,110.6h1.8v1.8h-1.8zM179.6,112.6h1.8v1.8h-1.8zM179.6,114.6h1.8v1.8h-1.8zM177.1,115.6h1.8v1.8h-1.8zM184.6,115.1h1.8v1.8h-1.8zM189.6,116.1h1.8v1.8h-1.8zM167.1,115.1h1.8v1.8h-1.8zM169.1,115.1h1.8v1.8h-1.8zM223.1,113.6h1.8v1.8h-1.8zM223.1,115.6h1.8v1.8h-1.8zM223.1,117.6h1.8v1.8h-1.8zM223.1,119.1h1.8v1.8h-1.8zM186.6,122.6h1.8v1.8h-1.8zM189.6,120.1h1.8v1.8h-1.8zM189.6,122.1h1.8v1.8h-1.8zM189.6,124.1h1.8v1.8h-1.8zM193.6,121.1h1.8v1.8h-1.8zM200.1,119.6h1.8v1.8h-1.8zM222.6,120.6h1.8v1.8h-1.8zM176.6,127.9h1.8v1.8h-1.8zM186.6,128.6h1.8v1.8h-1.8zM196.6,126.6h1.8v1.8h-1.8zM202.1,127.6h1.8v1.8h-1.8zM202.1,129.6h1.8v1.8h-1.8zM202.1,131.1h1.8v1.8h-1.8zM230.6,130.6h1.8v1.8h-1.8zM176.6,131.9h1.8v1.8h-1.8zM194.6,134.6h1.8v1.8h-1.8zM207.1,133.6h1.8v1.8h-1.8zM218.1,133.1h1.8v1.8h-1.8zM218.1,135.1h1.8v1.8h-1.8zM220.1,136.6h1.8v1.8h-1.8zM223.1,137.6h1.8v1.8h-1.8zM224.6,137.6h1.8v1.8h-1.8zM177.6,137.1h1.8v1.8h-1.8zM194.6,139.6h1.8v1.8h-1.8zM202.1,141.1h1.8v1.8h-1.8zM186.1,142.6h1.8v1.8h-1.8zM192.1,143.6h1.8v1.8h-1.8zM239.1,143.6h1.8v1.8h-1.8zM175.6,192.1h1.8v1.8h-1.8zM175.6,194.6h1.8v1.8h-1.8zM175.6,197.1h1.8v1.8h-1.8zM175.6,200.1h1.8v1.8h-1.8zM187.6,189.6h1.8v1.8h-1.8zM199.6,191.6h1.8v1.8h-1.8zM202.6,188.1h1.8v1.8h-1.8zM205.1,189.1h1.8v1.8h-1.8zM206.1,191.1h1.8v1.8h-1.8zM207.1,192.6h1.8v1.8h-1.8zM209.1,191.1h1.8v1.8h-1.8zM212.1,189.1h1.8v1.8h-1.8zM214.1,191.1h1.8v1.8h-1.8zM215.1,193.1h1.8v1.8h-1.8zM207.1,195.1h1.8v1.8h-1.8zM209.1,195.1h1.8v1.8h-1.8zM211.1,195.1h1.8v1.8h-1.8zM213.1,195.1h1.8v1.8h-1.8zM216.1,194.1h1.8v1.8h-1.8zM208.1,199.1h1.8v1.8h-1.8zM212.1,199.1h1.8v1.8h-1.8zM216.1,197.1h1.8v1.8h-1.8zM216.1,199.1h1.8v1.8h-1.8zM217.1,201.1h1.8v1.8h-1.8zM215.1,204.1h1.8v1.8h-1.8zM223.6,199.1h1.8v1.8h-1.8zM227.1,196.9h1.8v1.8h-1.8zM230.6,189.1h1.8v1.8h-1.8zM235.1,191.6h1.8v1.8h-1.8zM238.6,191.6h1.8v1.8h-1.8zM229.1,187.1h1.8v1.8h-1.8zM238.1,188.1h1.8v1.8h-1.8zM53.9,151.3h1.8v1.8h-1.8zM60.9,167.1h1.8v1.8h-1.8z"/><rect x="70.4" y="114.6" width="13.8" height="12.5" fill="none" stroke="#d8262e" stroke-width="1.7"/><circle cx="78.1" cy="120.8" r="1.8" fill="#000"/><rect x="28.3" y="4.8" width="216.1" height="223.6" fill="none" stroke="#6a6a6a" stroke-width="1.3"/><path d="M28.4,228.4V225.9M28.4,4.7V7.2M71.6,228.4V225.9M71.6,4.7V7.2M114.8,228.4V225.9M114.8,4.7V7.2M158.0,228.4V225.9M158.0,4.7V7.2M201.2,228.4V225.9M201.2,4.7V7.2M244.4,228.4V225.9M244.4,4.7V7.2M28.4,4.7H30.9M244.4,4.7H241.9M28.4,42.0H30.9M244.4,42.0H241.9M28.4,79.3H30.9M244.4,79.3H241.9M28.4,116.6H30.9M244.4,116.6H241.9M28.4,153.8H30.9M244.4,153.8H241.9M28.4,191.1H30.9M244.4,191.1H241.9M28.4,228.4H30.9M244.4,228.4H241.9" stroke="#888" stroke-width="0.9" fill="none"/><text x="27.9" y="235" text-anchor="middle" class="t">0</text>
<text x="71.1" y="235" text-anchor="middle" class="t">200</text>
<text x="114.3" y="235" text-anchor="middle" class="t">400</text>
<text x="157.5" y="235" text-anchor="middle" class="t">600</text>
<text x="200.7" y="235" text-anchor="middle" class="t">800</text>
<text x="243.9" y="235" text-anchor="middle" class="t" textLength="14.8" lengthAdjust="spacingAndGlyphs">1000</text>
<text x="24.9" y="6.7" text-anchor="end" class="t" style="font-size:7.4px">10</text>
<text x="24.9" y="44.0" text-anchor="end" class="t" style="font-size:7.4px">5</text>
<text x="24.9" y="81.3" text-anchor="end" class="t" style="font-size:7.4px">0</text>
<text x="24.9" y="118.6" text-anchor="end" class="t" style="font-size:7.9px">−5</text>
<text x="24.9" y="155.8" text-anchor="end" class="t" style="font-size:7.9px">−10</text>
<text x="24.9" y="193.1" text-anchor="end" class="t" style="font-size:7.9px">−15</text>
<text x="24.9" y="230.4" text-anchor="end" class="t" style="font-size:7.9px">−20</text>
<text x="89" y="247.9" textLength="93.5" lengthAdjust="spacingAndGlyphs" class="al">Number of residues</text>
<text transform="translate(10.4,140.2) rotate(-90)" textLength="42.5" lengthAdjust="spacingAndGlyphs" class="al">Z-score</text>
<rect x="191.5" y="8.5" width="49.5" height="28" fill="#fff" stroke="#444" stroke-width="0.9"/>
<rect x="193" y="13.3" width="17" height="5.1" fill="#b0c4de"/>
<rect x="193" y="25.6" width="17" height="5.3" fill="#4682b4"/>
<text x="216" y="18.8" textLength="20" lengthAdjust="spacingAndGlyphs" class="lg">X-ray</text>
<text x="216" y="31.3" textLength="17.2" lengthAdjust="spacingAndGlyphs" class="lg">NMR</text></g>
<text x="7.5" y="18" class="pl">a</text>
<text x="258.5" y="18" class="pl">b</text>
<text x="529.5" y="18" class="pl">c</text>
</svg>
</body></html>
